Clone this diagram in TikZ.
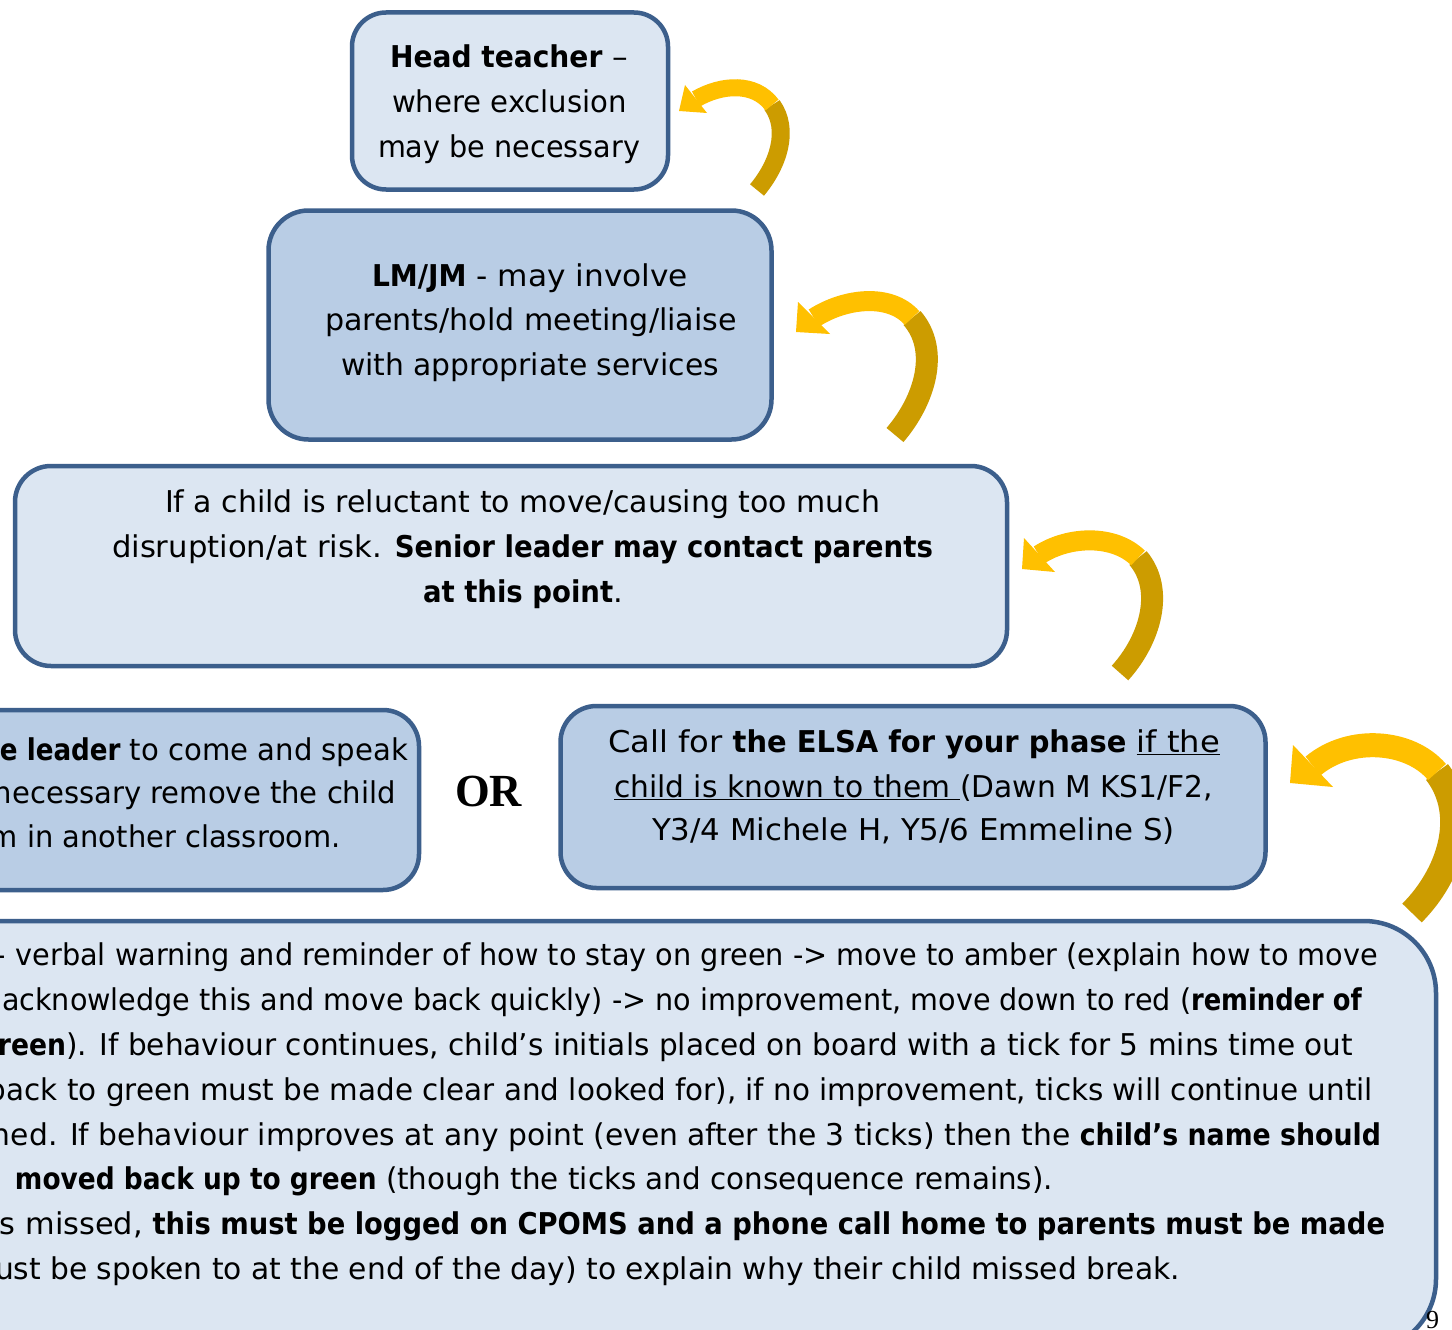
\documentclass[tikz,border=0pt]{standalone}
\usepackage{fontspec}
\setmainfont{DejaVu Sans}[BoldFont={DejaVu Sans Condensed Bold}]
\newfontfamily\orfont{Liberation Serif}
\usepackage{graphicx}
\newsavebox\fitbox
\newcommand\fitline[2]{\sbox\fitbox{#2}\pgfmathsetmacro\fitfac{(#1)/(\the\wd\fitbox)}\scalebox{\fitfac}[1]{\usebox\fitbox}}
\newcommand\txtline[5]{\node[tx] (#4) at (#1,#3) {\fitline{(#2)-(#1)}{#5}};}
\definecolor{bordc}{RGB}{60,95,140}
\definecolor{lightf}{RGB}{220,230,242}
\definecolor{midf}{RGB}{185,205,229}
\definecolor{goldl}{RGB}{255,192,0}
\definecolor{goldd}{RGB}{204,156,0}
\tikzset{
  box/.style={draw=bordc, line width=4.5pt, inner sep=0pt, outer sep=0pt},
  tx/.style={anchor=base west, inner sep=0pt, outer sep=0pt, font=\fontsize{30}{36}\selectfont},
  arrdark/.style={draw=goldd, line cap=butt},
  arrlight/.style={draw=goldl, line cap=butt},
}
\begin{document}
\begin{tikzpicture}[x=1pt,y=-1pt]
\clip (0,0) rectangle (1452,1330);
\fill[white] (0,0) rectangle (1452,1330);
% boxes
\node[box, fill=lightf, rounded corners=34pt, minimum width=316pt, minimum height=177pt] (head) at (510,101) {};
\node[box, fill=midf, rounded corners=40pt, minimum width=503pt, minimum height=229pt] (lmjm) at (520,325) {};
\node[box, fill=lightf, rounded corners=36pt, minimum width=992pt, minimum height=200pt] (mid) at (511,566) {};
\node[box, fill=midf, rounded corners=36pt, minimum width=720pt, minimum height=180pt] (left) at (59,800) {};
\node[box, fill=midf, rounded corners=36pt, minimum width=705pt, minimum height=182pt] (right) at (913,797) {};
\node[box, fill=lightf, rounded corners=72pt, minimum width=1540pt, minimum height=430pt] (bottom) at (666,1136) {};
% arrows
\draw[arrdark, line width=18pt] (757,190) .. controls (778,165) and (790,130) .. (772,105);
\draw[arrlight, line width=17pt] (772,105) .. controls (755,82) and (722,84) .. (696,99);
\fill[goldl] (679,111) -- (707,113) -- (685,85) -- cycle;
\draw[arrdark, line width=22pt] (895,435) .. controls (925,400) and (940,350) .. (912,318);
\draw[arrlight, line width=20pt] (912,318) .. controls (890,293) and (845,298) .. (814,318);
\fill[goldl] (796,332) -- (830,334) -- (798,302) -- cycle;
\draw[arrdark, line width=22pt] (1120,673) .. controls (1150,640) and (1165,590) .. (1138,558);
\draw[arrlight, line width=20pt] (1138,558) .. controls (1115,535) and (1070,535) .. (1039,555);
\fill[goldl] (1022,569) -- (1055,572) -- (1024,538) -- cycle;
\draw[arrdark, line width=27pt] (1412,913) .. controls (1450,875) and (1470,815) .. (1437,772);
\draw[arrlight, line width=24pt] (1437,772) .. controls (1410,740) and (1350,735) .. (1313,766);
\fill[goldl] (1290,783) -- (1333,787) -- (1293,745) -- cycle;
% head teacher
\txtline{390}{628}{67}{h1}{\textbf{Head teacher} –}
\txtline{392}{627}{112}{h2}{where exclusion}
\txtline{378}{640}{157}{h3}{may be necessary}
% LM/JM
\txtline{372}{688}{286}{l1}{\textbf{LM/JM} - may involve}
\txtline{325}{737}{330}{l2}{parents/hold meeting/liaise}
\txtline{341}{719}{375}{l3}{with appropriate services}
% middle
\txtline{165}{880}{512}{m1}{If a child is reluctant to move/causing too much}
\txtline{112}{933}{557}{m2}{disruption/at risk. \textbf{Senior leader may contact parents}}
\txtline{423}{623}{602}{m3}{\textbf{at this point}.}
% left
\txtline{0}{408}{760}{a1}{\textbf{e leader} to come and speak}
\txtline{-6}{396}{803}{a2}{necessary remove the child}
\txtline{-10}{341}{847}{a3}{m in another classroom.}
% OR
\node[inner sep=0pt, anchor=base west, font=\orfont\bfseries\fontsize{46}{50}\selectfont] (or) at (455,806) {\fitline{67}{OR}};
% right
\txtline{608}{1220}{752}{r1}{Call for \textbf{the ELSA for your phase} \underline{if the}}
\txtline{614}{1213}{797}{r2}{\underline{child is known to them\ }(Dawn M KS1/F2,}
\txtline{652}{1175}{840}{r3}{Y3/4 Michele H, Y5/6 Emmeline S)}
% bottom
\txtline{-4}{1378}{965}{b1}{- verbal warning and reminder of how to stay on green -> move to amber (explain how to move}
\txtline{2}{1362}{1010}{b2}{acknowledge this and move back quickly) -> no improvement, move down to red (\textbf{reminder of}}
\txtline{-2}{1353}{1055}{b3}{\textbf{reen}). If behaviour continues, child’s initials placed on board with a tick for 5 mins time out}
\txtline{-12}{1373}{1100}{b4}{back to green must be made clear and looked for), if no improvement, ticks will continue until}
\txtline{-8}{1381}{1145}{b5}{ned. If behaviour improves at any point (even after the 3 ticks) then the \textbf{child’s name should}}
\txtline{15}{1053}{1189}{b6}{\textbf{moved back up to green} (though the ticks and consequence remains).}
\txtline{0}{1385}{1234}{b7}{s missed, \textbf{this must be logged on CPOMS and a phone call home to parents must be made}}
\txtline{-5}{1180}{1279}{b8}{ust be spoken to at the end of the day) to explain why their child missed break.}
% page number
\node[inner sep=0pt, anchor=base west, font=\orfont\fontsize{26}{28}\selectfont] (pg) at (1426,1328) {9};
\end{tikzpicture}
\end{document}
